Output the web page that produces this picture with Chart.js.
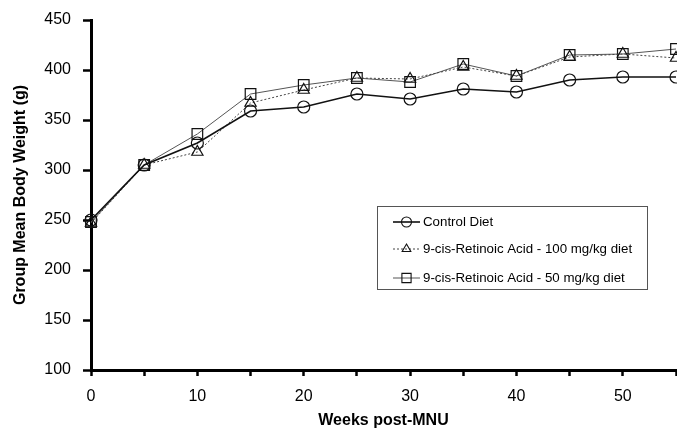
<!DOCTYPE html>
<html>
<head>
<meta charset="utf-8">
<script src="https://cdn.jsdelivr.net/npm/chart.js@4.4.1/dist/chart.umd.min.js"></script>
<style>
  html, body { margin: 0; padding: 0; background: #fff; }
  #wrap { width: 677px; height: 429px; position: relative; }
</style>
</head>
<body>
<div id="wrap"><canvas id="c" width="677" height="429"></canvas></div>
<script>
const weeks = [0, 5, 10, 15, 20, 25, 30, 35, 40, 45, 50, 55];
const controlDiet = [250, 305, 327, 359, 363, 376, 371, 381, 378, 390, 393, 393];
const retinoic100 = [247, 305, 318, 367, 380, 392, 391, 403, 394, 413, 416, 412];
const retinoic50  = [248, 305, 336, 376, 385, 392, 388, 406, 394, 415, 416, 421];
const seriesNames = ['Control Diet', '9-cis-Retinoic Acid - 100 mg/kg diet', '9-cis-Retinoic Acid - 50 mg/kg diet'];
const xTickLabels = [0, 10, 20, 30, 40, 50];
const yTickLabels = [100, 150, 200, 250, 300, 350, 400, 450];

const FONT = "'Liberation Sans', Arial, Helvetica, sans-serif";

function toXY(vals) { return weeks.map((w, i) => ({ x: w, y: vals[i] })); }

const datasets = [
  {
    label: seriesNames[0], data: toXY(controlDiet),
    borderColor: '#111', borderWidth: 1.6, pointStyle: 'circle', pointRadius: 6,
    pointBorderColor: '#111', pointBackgroundColor: 'rgba(0,0,0,0)', pointBorderWidth: 1.2,
    tension: 0, order: 1, clip: false
  },
  {
    label: seriesNames[1], data: toXY(retinoic100),
    borderColor: '#444', borderWidth: 1, borderDash: [2, 2], pointStyle: 'triangle', pointRadius: 6.5,
    pointBorderColor: '#111', pointBackgroundColor: 'rgba(0,0,0,0)', pointBorderWidth: 1.2,
    tension: 0, order: 2, clip: false
  },
  {
    label: seriesNames[2], data: toXY(retinoic50),
    borderColor: '#555', borderWidth: 1, pointStyle: 'rect', pointRadius: 7.5,
    pointBorderColor: '#111', pointBackgroundColor: 'rgba(0,0,0,0)', pointBorderWidth: 1.2,
    tension: 0, order: 3, clip: false
  }
];

function drawMarker(ctx, style, r, x, y) {
  ctx.beginPath();
  if (style === 'circle') {
    ctx.arc(x, y, r, 0, Math.PI * 2);
  } else if (style === 'triangle') {
    ctx.moveTo(x, y - r);
    ctx.lineTo(x + Math.sin(2 * Math.PI / 3) * r, y - Math.cos(2 * Math.PI / 3) * r);
    ctx.lineTo(x + Math.sin(4 * Math.PI / 3) * r, y - Math.cos(4 * Math.PI / 3) * r);
    ctx.closePath();
  } else {
    const s = r * Math.SQRT1_2;
    ctx.rect(x - s, y - s, 2 * s, 2 * s);
  }
  ctx.stroke();
}

const legendPlugin = {
  id: 'insideLegend',
  afterDraw(chart) {
    const ctx = chart.ctx;
    const box = { x: 377.5, y: 206.5, w: 270, h: 83 };
    ctx.save();
    ctx.fillStyle = '#fff';
    ctx.fillRect(box.x, box.y, box.w, box.h);
    ctx.strokeStyle = '#555';
    ctx.lineWidth = 1;
    ctx.strokeRect(box.x, box.y, box.w, box.h);
    const rows = [222, 249, 278];
    chart.data.datasets.forEach((ds, i) => {
      const y = rows[i];
      ctx.strokeStyle = ds.borderColor;
      ctx.lineWidth = ds.borderWidth;
      ctx.setLineDash(ds.borderDash || []);
      ctx.beginPath();
      ctx.moveTo(393, y);
      ctx.lineTo(420, y);
      ctx.stroke();
      ctx.setLineDash([]);
      ctx.strokeStyle = '#111';
      ctx.lineWidth = 1.1;
      drawMarker(ctx, ds.pointStyle, ds.pointStyle === 'rect' ? 6.5 : 5, 406.5, y);
      ctx.fillStyle = '#000';
      ctx.font = '13.3px ' + FONT;
      ctx.textBaseline = 'middle';
      ctx.textAlign = 'left';
      ctx.fillText(ds.label, 423, y + 0.5);
    });
    ctx.restore();
  }
};

new Chart(document.getElementById('c'), {
  type: 'line',
  data: { datasets },
  options: {
    responsive: false,
    animation: false,
    devicePixelRatio: 1,
    layout: { autoPadding: false, padding: { top: 20, right: 1, bottom: 0, left: 0 } },
    plugins: { legend: { display: false }, tooltip: { enabled: false } },
    scales: {
      x: {
        type: 'linear', min: 0, max: 55,
        afterFit(scale) { scale.height = 59; scale.paddingLeft = 0; scale.paddingRight = 0; },
        afterBuildTicks(scale) { scale.ticks = weeks.map(v => ({ value: v })); },
        ticks: {
          autoSkip: false, maxRotation: 0, color: '#000', padding: 11,
          font: { family: FONT, size: 16 },
          callback: (v) => xTickLabels.includes(v) ? String(v) : ''
        },
        grid: { drawOnChartArea: false, drawTicks: true, tickLength: 6, tickWidth: 2.5, tickColor: '#000' },
        border: { display: true, color: '#000', width: 3 },
        title: {
          display: true, text: 'Weeks post-MNU', color: '#000',
          font: { family: FONT, size: 16, weight: 'bold', lineHeight: 1 },
          padding: { top: 0, bottom: 0 }
        }
      },
      y: {
        type: 'linear', min: 100, max: 450,
        afterFit(scale) { scale.width = 91; scale.paddingTop = 0; scale.paddingBottom = 0; },
        afterBuildTicks(scale) { scale.ticks = yTickLabels.map(v => ({ value: v })); },
        ticks: {
          color: '#000', padding: 12,
          font: { family: FONT, size: 16 },
          callback: (v) => String(v)
        },
        grid: { drawOnChartArea: false, drawTicks: true, tickLength: 8, tickWidth: 2.5, tickColor: '#000' },
        border: { display: true, color: '#000', width: 3 },
        title: {
          display: true, text: 'Group Mean Body Weight (g)', color: '#000',
          font: { family: FONT, size: 16, weight: 'bold', lineHeight: 1 },
          padding: { top: 13, bottom: 0 }
        }
      }
    }
  },
  plugins: [legendPlugin]
});
</script>
</body>
</html>
